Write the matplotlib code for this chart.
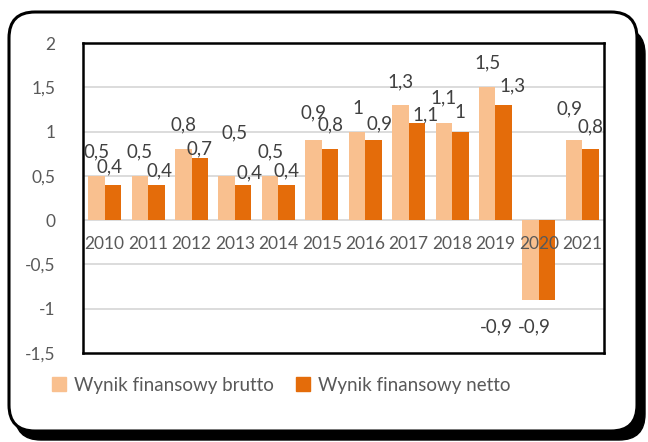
import numpy as np
import matplotlib
matplotlib.use("Agg")
from matplotlib import pyplot as plt
from matplotlib.patches import FancyBboxPatch, Patch
from matplotlib.transforms import IdentityTransform

plt.rcParams["font.family"] = ["Lato", "DejaVu Sans"]

years = ["2010", "2011", "2012", "2013", "2014", "2015",
         "2016", "2017", "2018", "2019", "2020", "2021"]
brutto = [0.5, 0.5, 0.8, 0.5, 0.5, 0.9, 1.0, 1.3, 1.1, 1.5, -0.9, 0.9]
netto = [0.4, 0.4, 0.7, 0.4, 0.4, 0.8, 0.9, 1.1, 1.0, 1.3, -0.9, 0.8]
series_names = ["Wynik finansowy brutto", "Wynik finansowy netto"]

# where Excel put the data labels (y in data units, x shift in category units)
brutto_lab_y = [0.77, 0.77, 1.07, 0.98, 0.77, 1.21, 1.26, 1.56, 1.38, 1.77, -1.20, 1.26]
netto_lab_y = [0.60, 0.56, 0.81, 0.53, 0.56, 1.07, 1.09, 1.19, 1.21, 1.52, -1.20, 1.05]
brutto_lab_dx = [0, 0, 0, 0.19, 0, 0, 0.02, 0, 0, 0, -0.80, -0.11]
netto_lab_dx = [-0.07, 0.07, 0, 0.14, 0, 0, 0.14, 0.20, 0, 0.21, -0.30, 0]

c_brutto = "#F9C08F"
c_netto = "#E46C0A"
txt = "#404040"
tick_c = "#595959"

fig = plt.figure(figsize=(6.48, 4.42), dpi=100)

# rounded frame with a drop shadow, in pixel units
shadow = FancyBboxPatch((40, 27), 575, 372, boxstyle="round,pad=0,rounding_size=26",
                        transform=IdentityTransform(), facecolor="black",
                        edgecolor="black", zorder=-3)
shadow.set_bounds(15, 2, 630, 412)
frame = FancyBboxPatch((9, 11), 628, 419, boxstyle="round,pad=0,rounding_size=26",
                       transform=IdentityTransform(), facecolor="white",
                       edgecolor="black", linewidth=2.2, zorder=-2)
fig.add_artist(shadow)
fig.add_artist(frame)

ax = fig.add_axes([83 / 648, 1 - 353 / 442, 521 / 648, 310 / 442])
ax.set_facecolor("white")

x = np.arange(len(years))
w = 0.38
ax.bar(x - w / 2, brutto, w, color=c_brutto, zorder=3)
ax.bar(x + w / 2, netto, w, color=c_netto, zorder=3)

ax.set_xlim(-0.5, len(years) - 0.5)
ax.set_ylim(-1.5, 2)
yt = np.arange(-1.5, 2.01, 0.5)
ax.set_yticks(yt)
ax.set_yticklabels([("%g" % v).replace(".", ",") for v in yt])
ax.tick_params(axis="y", length=0, pad=20, labelsize=12.5, labelcolor=tick_c)
ax.set_xticks([])
for v in yt[1:-1]:
    ax.axhline(v, color="#D9D9D9", linewidth=1.3, zorder=1)

for s in ax.spines.values():
    s.set_linewidth(1.8)
    s.set_color("black")

# category labels just under the zero line
for i, yr in enumerate(years):
    ax.annotate(yr, (i, 0), xytext=(0, -24), textcoords="offset pixels",
                ha="center", va="center", fontsize=12.5, color=tick_c, zorder=4)

for i in range(len(years)):
    ax.text(i - w / 2 + brutto_lab_dx[i], brutto_lab_y[i],
            ("%g" % brutto[i]).replace(".", ","), ha="center", va="center",
            fontsize=13.5, color=txt, zorder=5)
    ax.text(i + w / 2 + netto_lab_dx[i], netto_lab_y[i],
            ("%g" % netto[i]).replace(".", ","), ha="center", va="center",
            fontsize=13.5, color=txt, zorder=5)

handles = [Patch(color=c_brutto), Patch(color=c_netto)]
fig.legend(handles, series_names, loc="center", bbox_to_anchor=(281 / 648, 1 - 385 / 442),
           ncol=2, frameon=False, fontsize=13.5, handlelength=0.75, handleheight=0.75,
           handletextpad=0.4, columnspacing=1.2, labelcolor=tick_c)

fig.savefig("out.png", dpi=100)
